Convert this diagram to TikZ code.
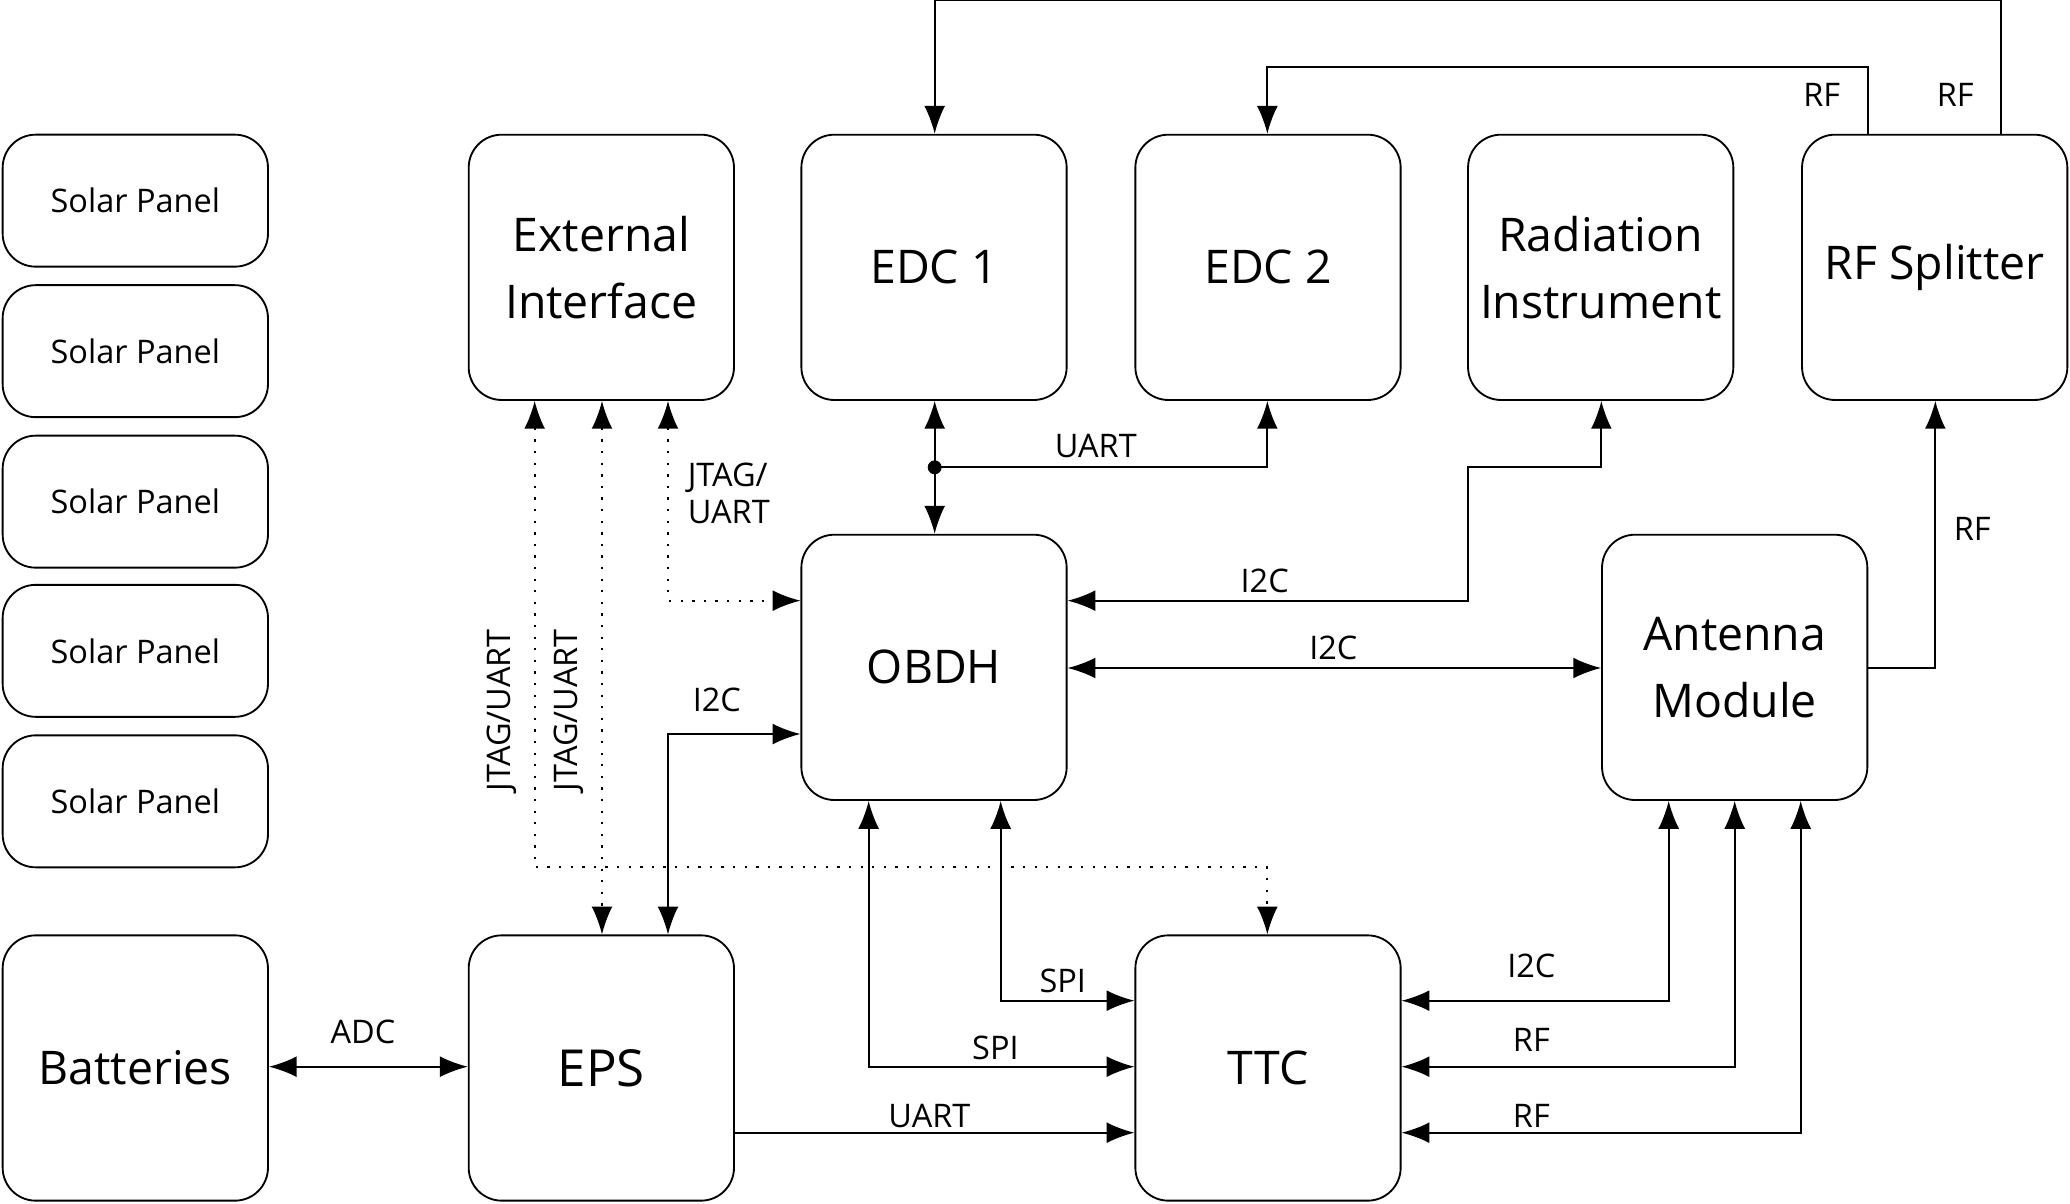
\documentclass[tikz,border=0pt]{standalone}
\usepackage{fontspec}
\setmainfont{Open Sans}
\usetikzlibrary{arrows.meta}
\begin{document}
\begin{tikzpicture}[x=0.02cm,y=-0.02cm,every path/.style={>={Latex[length=12pt,width=9pt]}},
	block/.style={draw,thick,rounded corners=0.5cm,minimum width=4.02cm,minimum height=4.02cm,align=center,font=\fontsize{20}{29}\selectfont},
	panel/.style={block,minimum height=2cm,font=\fontsize{14}{17}\selectfont},
	link/.style={thick},
	jtag/.style={thick,dash pattern=on 1pt off 4pt},
	lbl/.style={font=\fontsize{14}{16}\selectfont,inner sep=1pt}]
	\useasboundingbox (0,0) rectangle (1568,912);
	
	% solar panels
	\foreach \y [count=\i] in {152,266,380,493,607}
	{
		\node[panel] (panel\i) at (102.5,\y) {Solar Panel};
	}
	
	% blocks
	\node[block] (bat) at (102.5,809) {Batteries};
	\node[block] (ext) at (455.5,202.5) {External\\Interface};
	\node[block] (edc1) at (707.5,202.5) {EDC 1};
	\node[block] (edc2) at (960.5,202.5) {EDC 2};
	\node[block] (rad) at (1212.5,202.5) {Radiation\\Instrument};
	\node[block] (split) at (1465.5,202.5) {RF Splitter};
	\node[block] (obdh) at (707.5,505.5) {OBDH};
	\node[block] (ant) at (1314,505.5) {Antenna\\Module};
	\node[block,font=\fontsize{22}{26}\selectfont] (eps) at (455.5,809) {EPS};
	\node[block] (ttc) at (960.5,809) {TTC};
	
	% splitter to EDCs
	\draw[link,->] (1516,0 |- split.north) -- (1516,0) -- (708,0) -- (708,0 |- edc1.north);
	\draw[link,->] (1415,0 |- split.north) -- (1415,51) -- (960,51) -- (960,0 |- edc2.north);
	\node[lbl] (rf1) at (1481,72) {RF};
	\node[lbl] (rf2) at (1380,72) {RF};
	
	% EDC bus
	\draw[link,<->] (708,0 |- edc1.south) -- (708,0 |- obdh.north);
	\draw[link,->] (708,354) -- (960,354) -- (960,0 |- edc2.south);
	\fill (708,354) circle (3pt);
	\node[lbl] (uart1) at (830,338) {UART};
	
	% OBDH to radiation and antenna
	\draw[link,<->] (obdh.east |- 0,455) -- (1112,455) -- (1112,354) -- (1213,354) -- (1213,0 |- rad.south);
	\node[lbl] (i2c1) at (958,440) {I2C};
	\draw[link,<->] (obdh.east |- 0,506) -- (ant.west |- 0,506);
	\node[lbl] (i2c2) at (1010,491) {I2C};
	\draw[link,->] (ant.east |- 0,506) -- (1466,506) -- (1466,0 |- split.south);
	\node[lbl] (rf3) at (1494,401) {RF};
	
	% external interface
	\draw[jtag,<->] (506,0 |- ext.south) -- (506,455) -- (obdh.west |- 0,455);
	\node[lbl,align=left] (jtag1) at (552,374) {JTAG/\\UART};
	\draw[jtag,<->] (405,0 |- ext.south) -- (405,657) -- (960,657) -- (960,0 |- ttc.north);
	\draw[jtag,<->] (456,0 |- ext.south) -- (456,0 |- eps.north);
	\node[lbl,rotate=90] (jtag2) at (380,538) {JTAG/UART};
	\node[lbl,rotate=90] (jtag3) at (431,538) {JTAG/UART};
	
	% EPS
	\draw[link,<->] (506,0 |- eps.north) -- (506,556) -- (obdh.west |- 0,556);
	\node[lbl] (i2c3) at (543,530) {I2C};
	\draw[link,<->] (bat.east |- 0,808) -- (eps.west |- 0,808);
	\node[lbl] (adc) at (275,782) {ADC};
	\draw[link,->] (eps.east |- 0,858) -- (ttc.west |- 0,858);
	\node[lbl] (uart2) at (704,845) {UART};
	
	% OBDH to TTC
	\draw[link,<->] (658,0 |- obdh.south) -- (658,808) -- (ttc.west |- 0,808);
	\node[lbl] (spi1) at (754,794) {SPI};
	\draw[link,<->] (758,0 |- obdh.south) -- (758,758) -- (ttc.west |- 0,758);
	\node[lbl] (spi2) at (805,743) {SPI};
	
	% antenna to TTC
	\draw[link,<->] (1264,0 |- ant.south) -- (1264,758) -- (ttc.east |- 0,758);
	\node[lbl] (i2c4) at (1160,732) {I2C};
	\draw[link,<->] (1314,0 |- ant.south) -- (1314,808) -- (ttc.east |- 0,808);
	\node[lbl] (rf4) at (1160,788) {RF};
	\draw[link,<->] (1364,0 |- ant.south) -- (1364,858) -- (ttc.east |- 0,858);
	\node[lbl] (rf5) at (1160,845) {RF};
\end{tikzpicture}
\end{document}
